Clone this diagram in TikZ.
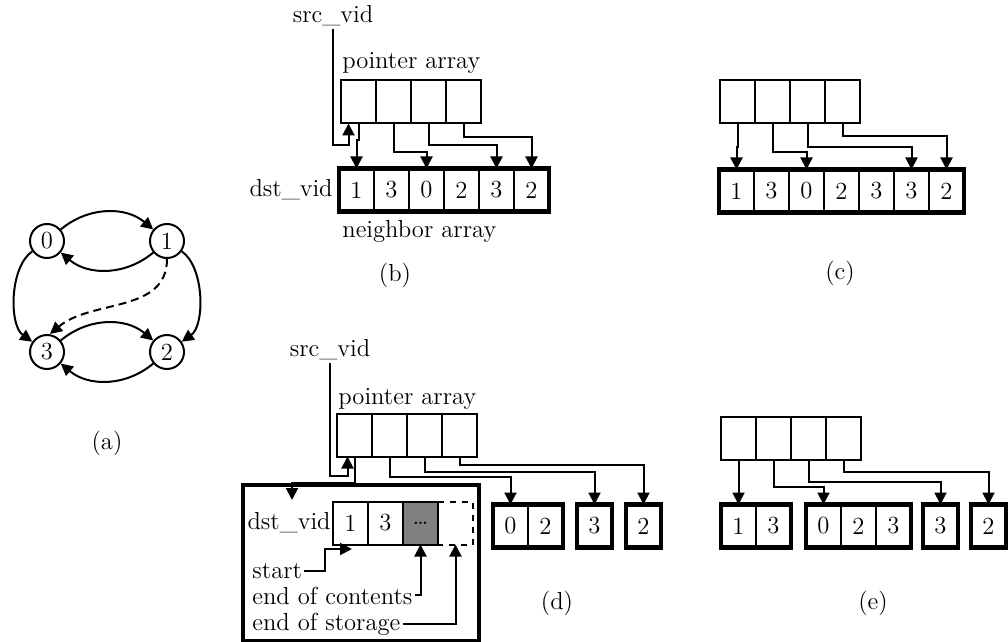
\documentclass[tikz,border=0pt]{standalone}
\usetikzlibrary{arrows.meta,positioning}
\begin{document}
\begin{tikzpicture}[x=.5pt,y=-.5pt,font=\fontsize{12.3}{14}\selectfont,
 cell/.style={draw,line width=1pt,minimum width=17.5pt,minimum height=21.5pt,inner sep=0pt,outer sep=0pt},
 vtx/.style={draw,circle,line width=1pt,minimum size=17pt,inner sep=0pt},
 arr/.style={line width=1pt,-{Triangle[length=6pt,width=6pt]}},
 wall/.style={line width=2.2pt},
 lbl/.style={inner sep=1pt}]
\useasboundingbox (0,0) rectangle (1008,642);
\def\ptrs#1#2#3{\foreach \i in {0,...,3}{\node[cell] (#1\i) at (#2+35*\i+17.5,#3){};}}
\def\cells#1#2#3#4{\foreach \v [count=\i from 0] in {#4}{\node[cell] (#1\i) at (#2+35*\i+17.5,#3){\v};}}
\def\lnk#1#2#3{\draw[arr] (#1.south) -- (#1.south |- 0,#2) -| (#3.north);}
% (a)
\node[vtx] (g0) at (47,241){0};\node[vtx] (g1) at (167,241){1};
\node[vtx] (g3) at (47,352){3};\node[vtx] (g2) at (167,352){2};
\draw[arr] (g0) to[bend left=40] (g1);\draw[arr] (g1) to[bend left=40] (g0);
\draw[arr] (g3) to[bend left=40] (g2);\draw[arr] (g2) to[bend left=40] (g3);
\draw[arr] (g0) to[bend right=55,looseness=.8] (g3);\draw[arr] (g1) to[bend left=55,looseness=.8] (g2);
\draw[arr,dash pattern=on 4pt off 2.5pt] (g1.south) to[out=-90,in=40] ([xshift=1.5pt]g3.north);
\node (capa) at (107,443){(a)};
% (b)
\ptrs{pb}{341}{102}
\node[anchor=base west,lbl] (ptrb) at (340,69){pointer array};
\node[anchor=base,lbl] (srcb) at (333,23){src\_vid};
\cells{nb}{339}{190}{1,3,0,2,3,2}
\draw[wall] (nb0.north west) rectangle (nb5.south east);
\node[left=2pt of nb0,lbl] (dstb){dst\_vid};
\node[anchor=base west,lbl] (nbrb) at (340,237){neighbor array};
\draw[arr] (srcb.south) -- (srcb.south |- 0,145) -| ([xshift=-5pt]pb0.south);
\lnk{pb0}{140}{nb0}\lnk{pb1}{152}{nb2}\lnk{pb2}{145}{nb4}\lnk{pb3}{137}{nb5}
\node (capb) at (395,275){(b)};
% (c)
\ptrs{pc}{720}{102}
\cells{nc}{719}{191}{1,3,0,2,3,3,2}
\draw[wall] (nc0.north west) rectangle (nc6.south east);
\lnk{pc0}{147}{nc0}\lnk{pc1}{152}{nc2}\lnk{pc2}{147}{nc5}\lnk{pc3}{136}{nc6}
\node (capc) at (840,273){(c)};
% (d)
\ptrs{pd}{337}{435}
\node[anchor=base west,lbl] (ptrd) at (336,404){pointer array};
\node[anchor=base,lbl] (srcd) at (330,357){src\_vid};
\node[draw,wall,minimum width=118pt,minimum height=78pt,anchor=north west] (store) at (241,483){};
\cells{dc}{333}{523}{1,3}
\node[cell,fill=black!50] (dc2) at (403+17.5,523){\ldots};
\node[cell,draw=none] (dc3) at (438+17.5,523){};
\draw[line width=1pt,dashed] (dc3.north west) -- (dc3.north east) -- (dc3.south east) -- (dc3.south west);
\node[left=0pt of dc0,lbl] (dstd){dst\_vid};
\coordinate (dtip) at (292,500);
\draw[arr] (srcd.south) -- (srcd.south |- 0,476) -| ([xshift=-3.5pt]pd0.south);
\draw[arr] (pd0.south) -- (pd0.south |- store.north) -| (dtip);
\node[anchor=base west,lbl] (tstart) at (250,578){start};
\node[anchor=base west,lbl] (tcont) at (250,604){end of contents};
\node[anchor=base west,lbl] (tstor) at (250,630){end of storage};
\coordinate (dsk) at (325,549);\coordinate (dsa) at (352,549);
\draw[arr] (tstart.east) -| (dsk) -- (dsa);
\draw[arr] (tcont.east) -| (dc2.south);
\draw[arr] (tstor.east) -| (dc3.south);
\cells{da}{493}{526}{0,2}\draw[wall] (da0.north west) rectangle (da1.south east);
\cells{db}{577}{526}{3}\draw[wall] (db0.north west) rectangle (db0.south east);
\cells{dd}{626}{526}{2}\draw[wall] (dd0.north west) rectangle (dd0.south east);
\lnk{pd1}{477}{da0}\lnk{pd2}{472}{db0}\lnk{pd3}{465}{dd0}
\node (capd) at (557,603){(d)};
% (e)
\ptrs{pe}{721}{438}
\cells{ea}{721}{526}{1,3}\draw[wall] (ea0.north west) rectangle (ea1.south east);
\cells{eb}{806}{526}{0,2,3}\draw[wall] (eb0.north west) rectangle (eb2.south east);
\cells{ec}{923}{526}{3}\draw[wall] (ec0.north west) rectangle (ec0.south east);
\cells{ed}{971}{526}{2}\draw[wall] (ed0.north west) rectangle (ed0.south east);
\lnk{pe0}{482}{ea0}\lnk{pe1}{487}{eb0}\lnk{pe2}{482}{ec0}\lnk{pe3}{472}{ed0}
\node (cape) at (873,603){(e)};
\end{tikzpicture}
\end{document}
